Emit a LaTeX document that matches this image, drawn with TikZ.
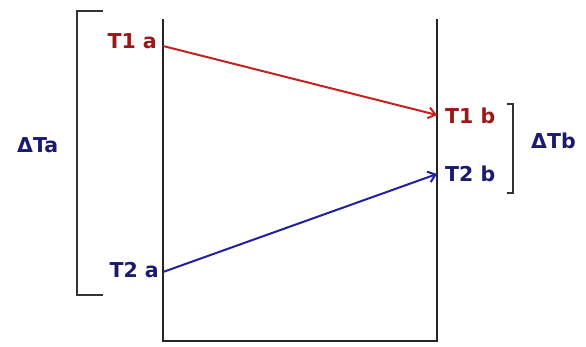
\documentclass[tikz,border=0pt]{standalone}
\usepackage{fontspec}
\setmainfont{DejaVu Sans}
\usetikzlibrary{arrows.meta}
\definecolor{tred}{HTML}{9A1818}
\definecolor{ared}{HTML}{C82020}
\definecolor{tblue}{HTML}{1A1A70}
\definecolor{ablue}{HTML}{2020A0}
\begin{document}
\begin{tikzpicture}[x=1pt,y=-1pt,
  lbl/.style={font=\bfseries\fontsize{20.5}{20.5}\selectfont, inner sep=0pt},
  wall/.style={line width=2.4pt, black!85},
  brk/.style={line width=1.5pt, black!80},
  conn/.style={line width=2pt, -{Straight Barb[length=7pt,width=11pt]}}]
\useasboundingbox (0,0) rectangle (586,347);
\draw[wall] (163,19) -- (163,341) -- (437,341) -- (437,19);
\coordinate (a1) at (163,46);
\coordinate (b1) at (437,115);
\coordinate (a2) at (163,272);
\coordinate (b2) at (437,174);
\draw[conn, ared] (a1) -- (b1);
\draw[conn, ablue] (a2) -- (b2);
\node[lbl, tred, anchor=east] (t1a) at (157,41) {T1 a};
\node[lbl, tblue, anchor=east] (t2a) at (159,270) {T2 a};
\node[lbl, tred, anchor=west] (t1b) at (445,116) {T1 b};
\node[lbl, tblue, anchor=west] (t2b) at (445,174) {T2 b};
\node[lbl, tblue, anchor=west] (dta) at (17,145) {ΔTa};
\node[lbl, tblue, anchor=west] (dtb) at (531,141) {ΔTb};
\draw[brk] (103,11) -- (77,11) -- (77,295) -- (103,295);
\draw[brk] (507,104) -- (513,104) -- (513,193) -- (507,193);
\end{tikzpicture}
\end{document}
